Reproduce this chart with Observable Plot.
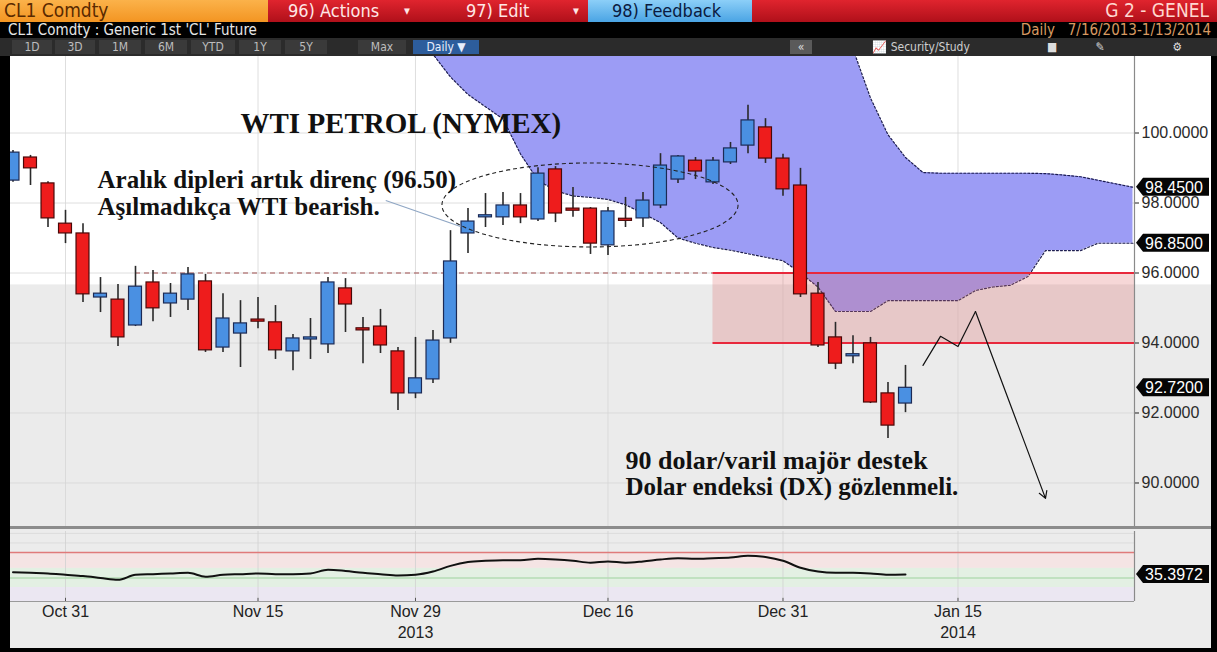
<!DOCTYPE html>
<html><head><meta charset="utf-8">
<script src="https://cdn.jsdelivr.net/npm/d3@7"></script>
<script src="https://cdn.jsdelivr.net/npm/@observablehq/plot@0.6"></script>
<style>
body{margin:0;background:#000;}
#wrap{position:relative;width:1217px;height:652px;overflow:hidden;background:#000;font-family:"Liberation Sans Narrow","DejaVu Sans Condensed","Liberation Sans",Arial,sans-serif;}
.abs{position:absolute;white-space:nowrap;}
#r1{left:0;top:0;width:1217px;height:22px;background:linear-gradient(#e0242e,#b0101a);}
#r2{left:0;top:22px;width:1217px;height:16px;background:#000;}
#r3{left:0;top:38px;width:1217px;height:18px;background:#2b2b2b;}
.tab{position:absolute;top:2px;height:14px;line-height:14px;font-size:12px;color:#bdbdbd;text-align:center;background:#3a3a3a;}
</style></head><body>
<div id="wrap">
  <div id="r1" class="abs">
    <div class="abs" style="left:0;top:0;width:268px;height:22px;background:linear-gradient(#fbb24a,#f39522);"></div>
    <div class="abs" style="left:4px;top:0;font-size:19px;line-height:21px;color:#5a2a00;">CL1 Comdty</div>
    <div class="abs" style="left:288px;top:0;font-size:18px;line-height:21px;color:#ffe6e6;">96) Actions</div>
    <div class="abs" style="left:404px;top:0;font-size:13px;line-height:21px;color:#ffe6e6;">▾</div>
    <div class="abs" style="left:466px;top:0;font-size:18px;line-height:21px;color:#ffe6e6;">97) Edit</div>
    <div class="abs" style="left:573px;top:0;font-size:13px;line-height:21px;color:#ffe6e6;">▾</div>
    <div class="abs" style="left:588px;top:0;width:164px;height:22px;background:linear-gradient(#8ccff8,#4aa4e4);"></div>
    <div class="abs" style="left:612px;top:0;font-size:18px;line-height:21px;color:#0a1a40;">98) Feedback</div>
    <div class="abs" style="right:8px;top:0;font-size:19px;line-height:21px;color:#ffd8d0;">G 2 - GENEL</div>
  </div>
  <div id="r2" class="abs">
    <div class="abs" style="left:8px;top:0;font-size:15px;line-height:16px;color:#e6e6e6;">CL1 Comdty : Generic 1st 'CL' Future</div>
    <div class="abs" style="right:6px;top:0;font-size:15px;line-height:16px;color:#d89a62;">Daily&nbsp;&nbsp;&nbsp;7/16/2013-1/13/2014</div>
  </div>
  <div id="r3" class="abs">
    <div class="tab" style="left:12px;width:40px;">1D</div>
    <div class="tab" style="left:55px;width:40px;">3D</div>
    <div class="tab" style="left:99px;width:42px;">1M</div>
    <div class="tab" style="left:145px;width:42px;">6M</div>
    <div class="tab" style="left:191px;width:44px;">YTD</div>
    <div class="tab" style="left:239px;width:42px;">1Y</div>
    <div class="tab" style="left:285px;width:42px;">5Y</div>
    <div class="tab" style="left:358px;width:48px;">Max</div>
    <div class="tab" style="left:413px;width:66px;background:#2d5d9c;color:#e8eefc;">Daily ▼</div>
    <div class="tab" style="left:790px;width:22px;background:#5a5a5a;color:#ddd;">«</div>
    <div class="tab" style="left:836px;width:170px;background:#2b2b2b;color:#cfcfcf;">📈 Security/Study</div>
    <div class="tab" style="left:1030px;width:44px;background:#2b2b2b;color:#ddd;">■</div>
    <div class="tab" style="left:1078px;width:44px;background:#2b2b2b;color:#ddd;">✎</div>
    <div class="tab" style="left:1155px;width:44px;background:#2b2b2b;color:#ddd;">⚙</div>
  </div>
  <div id="price" class="abs" style="left:10px;top:56px;"></div>
  <div class="abs" style="left:10px;top:526px;width:1201px;height:3px;background:#8c8c8c;"></div>
  <div id="ind" class="abs" style="left:10px;top:529px;"></div>
</div>
<script>
// ---------- data ----------
const dates = ["2013-10-28","2013-10-29","2013-10-30","2013-10-31","2013-11-01",
"2013-11-04","2013-11-05","2013-11-06","2013-11-07","2013-11-08",
"2013-11-11","2013-11-12","2013-11-13","2013-11-14","2013-11-15",
"2013-11-18","2013-11-19","2013-11-20","2013-11-21","2013-11-22",
"2013-11-25","2013-11-26","2013-11-27","2013-11-29",
"2013-12-02","2013-12-03","2013-12-04","2013-12-05","2013-12-06",
"2013-12-09","2013-12-10","2013-12-11","2013-12-12","2013-12-13",
"2013-12-16","2013-12-17","2013-12-18","2013-12-19","2013-12-20",
"2013-12-23","2013-12-24","2013-12-26","2013-12-27","2013-12-30","2013-12-31",
"2014-01-02","2014-01-03","2014-01-06","2014-01-07","2014-01-08","2014-01-09","2014-01-10"];
const futureDates = ["2014-01-13","2014-01-14","2014-01-15","2014-01-16","2014-01-17","2014-01-20",
"2014-01-21","2014-01-22","2014-01-23","2014-01-24","2014-01-27","2014-01-28","2014-01-29"];

const open  = [98.64,99.30,98.56,97.41,97.13,95.30,95.24,94.50,95.73,95.13,95.24,95.76,93.87,94.27,94.67,94.59,93.76,94.10,93.96,95.56,94.42,94.47,93.76,92.56,92.96,94.13,97.13,97.59,97.59,97.93,97.53,98.96,97.84,97.84,96.79,97.55,97.56,97.93,98.67,99.21,98.59,99.16,99.64,100.16,99.27,98.50,95.41,94.16,93.62,93.99,92.56,92.27];
const high  = [99.50,99.36,98.61,97.79,97.41,95.87,95.67,96.19,96.07,95.70,96.16,95.96,95.41,95.21,95.30,95.07,94.24,94.70,95.87,95.84,94.73,94.96,93.87,94.16,94.36,97.21,97.84,98.27,98.30,98.27,99.01,99.04,98.44,97.87,97.87,98.16,98.30,99.41,99.36,99.30,99.30,99.73,100.79,100.41,99.39,98.99,95.73,94.59,94.21,94.16,92.87,93.36];
const low   = [98.59,98.50,97.30,96.84,95.16,94.87,93.90,94.47,94.61,94.73,94.93,93.73,93.73,93.30,94.41,93.53,93.21,93.53,93.70,94.30,93.41,93.70,92.07,92.41,92.84,93.99,96.56,97.30,97.36,97.41,97.47,97.44,97.59,96.53,96.50,97.30,97.30,97.84,98.56,98.67,98.53,99.10,99.41,99.13,98.19,95.30,93.87,93.24,93.41,92.27,91.27,92.01];
const close = [99.44,98.99,97.56,97.13,95.39,95.41,94.16,95.61,94.99,95.41,95.96,93.79,94.70,94.56,94.61,93.79,94.13,94.16,95.73,95.10,94.36,93.93,92.56,92.99,94.07,96.33,97.47,97.65,97.93,97.59,98.84,97.70,97.78,96.84,97.76,97.49,98.07,99.07,99.33,98.90,99.21,99.56,100.36,99.27,98.39,95.39,93.93,93.41,93.68,92.30,91.64,92.72];

const rsi = [39,38,37,35,33,30,27,35,36,37,38,32,35,36,37,36,36,37,43,41,38,36,34,35,40,49,55,57,58,58,60,59,57,54,56,54,56,59,61,60,61,62,65,63,57,46,40,38,38,37,35,35.3972];

// Ichimoku cloud, from 2013-11-29 to 2014-01-29
const cloudStart = "2013-11-29";
const cloudLower = [102.8,102.25,101.6,101.1,100.75,100.4,99.4,98.65,98.35,98.2,98.16,98.1,97.95,97.7,97.44,97.0,96.85,96.73,96.65,96.55,96.45,96.35,96.0,95.6,94.9,94.9,94.9,95.21,95.21,95.21,95.21,95.21,95.5,95.6,95.65,95.9,96.64,96.64,96.64,96.85,96.85,96.85];
const cloudUpper = [104,104,104,104,104,104,104,104,104,104,104,104,104,104,104,104,104,104,104,104,104,104,104,104,104,102.4,101.0,99.95,99.3,98.87,98.85,98.85,98.85,98.85,98.85,98.85,98.84,98.8,98.75,98.65,98.55,98.45];

const yTicks = [90,92,94,96,98,100];
const tickDates = ["2013-10-31","2013-11-15","2013-11-29","2013-12-16","2013-12-31","2014-01-15"];
const tickLabels = ["Oct 31","Nov 15","Nov 29","Dec 16","Dec 31","Jan 15"];
const yearDates = ["2013-11-29","2014-01-15"];
const yearLabels = ["2013","2014"];

const priceTags = [98.45, 96.85, 92.72];
const rsiTags = [35.3972];
const rsiLevels = [70, 30];

const resistance = 96, support = 94;
const dashedFrom = "2013-11-06", zoneFrom = "2013-12-24";
const greyBelow = 95.66;

const noteText = ["WTI PETROL (NYMEX)","Aralık dipleri artık direnç (96.50)","Aşılmadıkça WTI bearish.","90 dolar/varil majör destek","Dolar endeksi (DX) gözlenmeli."];
const noteX = [14.0, 5.83, 5.83, 36.0, 36.0];
const noteY = [100.27, 98.66, 97.9, 90.63, 89.89];
const noteSize = [29, 25, 25, 26, 25];

const ellipseAt = [34.0, 97.93];      // center (day index, price)
const ellipseR = [8.46, 1.2];         // radii (days, price)
const pointerX = [22.3, 26.57], pointerY = [98.07, 97.33];
const projDates = ["2014-01-13","2014-01-14","2014-01-15","2014-01-16"];
const projVals = [93.36, 94.19, 93.9, 94.9];
const arrowEnd = ["2014-01-22", 89.56];

// ---------- build ----------
const allDates = dates.concat(futureDates);
const idx = d => allDates.indexOf(d) + 1;
const candles = dates.map((d, k) => ({i: k + 1, o: open[k], h: high[k], l: low[k], c: close[k], up: close[k] >= open[k]}));
const c0 = idx(cloudStart);
const cloud = cloudLower.map((v, k) => ({i: c0 + k, lo: v, hi: cloudUpper[k]}));
const rsiData = rsi.map((v, k) => ({i: k + 1, v}));
const ticks = tickDates.map((d, k) => ({i: idx(d), label: tickLabels[k]}));
const years = yearDates.map((d, k) => ({i: idx(d), label: yearLabels[k]}));
const notes = noteText.map((t, k) => ({t, x: noteX[k], y: noteY[k], s: noteSize[k]}));
const proj = projDates.map((d, k) => ({i: idx(d), v: projVals[k]}));

const xDomain = [0.857, 65.086];
const yDomain = [88.757, 102.186];
const W = 1201, MR = 77;
const axisFont = "'Liberation Sans', Arial, sans-serif";
const serif = "'Liberation Serif', 'DejaVu Serif', serif";

function tagMark(vals, fmt) {
  return (index, scales, values, dim) => {
    const g = d3.create("svg:g");
    const x0 = dim.width - dim.marginRight + 2;
    for (const v of vals) {
      const y = scales.y(v);
      g.append("path")
        .attr("d", `M${x0},${y} L${x0 + 7},${y - 9} L${x0 + 73},${y - 9} L${x0 + 73},${y + 9} L${x0 + 7},${y + 9} Z`)
        .attr("fill", "#050505");
      g.append("text").attr("x", x0 + 9).attr("y", y).attr("dy", "0.36em")
        .attr("text-anchor", "start")
        .attr("fill", "#fff").attr("font-size", 16).attr("font-family", axisFont)
        .text(fmt(v));
    }
    return g.node();
  };
}

const ellipseMark = (index, scales) => {
  const cx = scales.x(ellipseAt[0]), cy = scales.y(ellipseAt[1]);
  const rx = scales.x(ellipseAt[0] + ellipseR[0]) - cx;
  const ry = cy - scales.y(ellipseAt[1] + ellipseR[1]);
  return d3.create("svg:ellipse").attr("cx", cx).attr("cy", cy).attr("rx", rx).attr("ry", ry)
    .attr("fill", "none").attr("stroke", "#222").attr("stroke-width", 1.1).attr("stroke-dasharray", "4,3").node();
};

const price = Plot.plot({
  width: W, height: 470, marginLeft: 0, marginRight: MR, marginTop: 0, marginBottom: 0,
  style: {background: "#fff", fontFamily: axisFont, fontSize: "16px", color: "#2a2a2a", overflow: "hidden"},
  x: {domain: xDomain, axis: null},
  y: {domain: yDomain, axis: null},
  marks: [
    Plot.rect([0], {x1: xDomain[0], x2: 80, y1: yDomain[0], y2: greyBelow, fill: "#ebebeb", clip: false}),
    Plot.ruleY(yTicks, {stroke: "#d6d6d6", strokeWidth: 0.8, x1: xDomain[0], x2: xDomain[1]}),
    Plot.ruleX(ticks, {x: "i", stroke: "#d6d6d6", strokeWidth: 0.8}),
    Plot.areaY(cloud, {x: "i", y1: "lo", y2: "hi", fill: "#9c9cf5", clip: true}),
    Plot.line(cloud, {x: "i", y: "hi", stroke: "#1c1c50", strokeWidth: 1.2, strokeDasharray: "2,2", clip: true}),
    Plot.line(cloud, {x: "i", y: "lo", stroke: "#1c1c50", strokeWidth: 1.2, strokeDasharray: "2,2", clip: true}),
    Plot.rect([0], {x1: idx(zoneFrom), x2: xDomain[1], y1: support, y2: resistance, fill: "#e07070", fillOpacity: 0.28}),
    Plot.ruleY([resistance], {x1: idx(dashedFrom), x2: idx(zoneFrom), stroke: "#a05050", strokeDasharray: "5,4", strokeWidth: 1.2}),
    Plot.ruleY([resistance, support], {x1: idx(zoneFrom), x2: xDomain[1], stroke: "#e8283c", strokeWidth: 2}),
    Plot.ruleX(candles, {x: "i", y1: "l", y2: "h", stroke: "#2a2a2a", strokeWidth: 1.6, clip: true}),
    Plot.rect(candles, {x1: d => d.i - 0.37, x2: d => d.i + 0.37, y1: "o", y2: "c",
      fill: d => d.up ? "#4a90e2" : "#ee1c1c", stroke: d => d.up ? "#1c2a55" : "#4a0808", strokeWidth: 1.2, clip: true}),
    ellipseMark,
    Plot.link([0], {x1: pointerX[0], y1: pointerY[0], x2: pointerX[1], y2: pointerY[1], stroke: "#8fa6c4", strokeWidth: 1.2}),
    Plot.line(proj, {x: "i", y: "v", stroke: "#111", strokeWidth: 1.2}),
    Plot.arrow([0], {x1: proj[proj.length - 1].i, y1: proj[proj.length - 1].v, x2: idx(arrowEnd[0]), y2: arrowEnd[1],
      stroke: "#111", strokeWidth: 1.2, headLength: 10}),
    Plot.text(notes, {x: "x", y: "y", text: "t", textAnchor: "start", lineAnchor: "middle",
      fontFamily: serif, fontWeight: "bold", fontSize: "s", fill: "#111"}),
    Plot.ruleX([xDomain[1]], {stroke: "#8a8a8a", strokeWidth: 1.2}),
    Plot.axisY(yTicks, {anchor: "right", tickFormat: d3.format(".4f"), tickSize: 4, tickPadding: 3,
      fontSize: 16, stroke: "#222", fill: "#2a2a2a"}),
    tagMark(priceTags, d3.format(".4f"))
  ]
});
document.getElementById("price").append(price);

const ind = Plot.plot({
  width: W, height: 119, marginLeft: 0, marginRight: MR, marginTop: 2, marginBottom: 47,
  style: {background: "#ececec", fontFamily: axisFont, fontSize: "16px", color: "#222", overflow: "hidden"},
  x: {domain: xDomain, axis: null},
  y: {domain: [-7, 103], axis: null},
  marks: [
    Plot.rect([0], {x1: xDomain[0], x2: xDomain[1], y1: 45, y2: 70, fill: "#f5e4e4"}),
    Plot.rect([0], {x1: xDomain[0], x2: xDomain[1], y1: 15, y2: 45, fill: "#e3f0e3"}),
    Plot.rect([0], {x1: xDomain[0], x2: xDomain[1], y1: -7, y2: 15, fill: "#ebe7f2"}),
    Plot.ruleY([85, 100], {x1: xDomain[0], x2: xDomain[1], stroke: "#d8d8d8", strokeWidth: 0.8}),
    Plot.ruleX(ticks, {x: "i", stroke: "#d0d0d0", strokeWidth: 0.8}),
    Plot.ruleY([rsiLevels[0]], {x1: xDomain[0], x2: xDomain[1], stroke: "#e07a7a", strokeWidth: 1.4}),
    Plot.ruleY([rsiLevels[1]], {x1: xDomain[0], x2: xDomain[1], stroke: "#b4dcb4", strokeWidth: 1.4}),
    Plot.line(rsiData, {x: "i", y: "v", stroke: "#111", strokeWidth: 2, curve: "monotone-x"}),
    Plot.ruleY([-7], {x1: xDomain[0], x2: xDomain[1], stroke: "#9a9a9a", strokeWidth: 1.2}),
    Plot.ruleX(ticks, {x: "i", y1: -7, y2: -2, stroke: "#555"}),
    Plot.ruleX([xDomain[1]], {stroke: "#8a8a8a", strokeWidth: 1.2}),
    Plot.text(ticks, {x: "i", frameAnchor: "bottom", dy: 15, text: "label", fontSize: 16, fill: "#222"}),
    Plot.text(years, {x: "i", frameAnchor: "bottom", dy: 36, text: "label", fontSize: 16, fill: "#222"}),
    tagMark(rsiTags, d3.format(".4f"))
  ]
});
document.getElementById("ind").append(ind);
</script>
</body></html>
